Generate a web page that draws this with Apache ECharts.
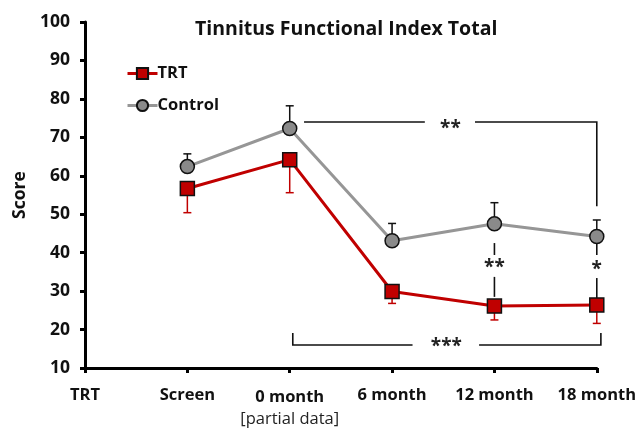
<!DOCTYPE html>
<html>
<head>
    <meta charset="utf-8">
    <title>Tinnitus Functional Index Total</title>
    <script src="https://cdn.jsdelivr.net/npm/echarts@6/dist/echarts.min.js"></script>
</head>
<body style="margin:0">
    <div id="chart" style="width: 639px; height: 431px;"></div>

    <script>
    // categories along x (index 0 is the group label slot)
    const categories = ['TRT', 'Screen', '0 month', '6 month', '12 month', '18 month'];
    const yTicks = [10, 20, 30, 40, 50, 60, 70, 80, 90, 100];

    // means (null = no point)
    const trtMean = [null, 56.7, 64.2, 29.9, 26.1, 26.4];
    const ctrlMean = [null, 62.4, 72.3, 43.1, 47.5, 44.2];
    // error bar ends: TRT drawn down, Control drawn up
    const trtLow = [null, 50.4, 55.6, 26.8, 22.5, 21.6];
    const ctrlHigh = [null, 65.7, 78.2, 47.6, 53.0, 48.5];

    // significance marks, in data units [x index, score]
    const sigLines = [
        [[2.14, 74], [3.32, 74]],
        [[3.81, 74], [5, 74], [5, 52.1]],
        [[2.03, 19.1], [2.03, 16], [3.2, 16]],
        [[3.85, 16], [5.04, 16], [5.04, 19.1]],
        [[4, 42.5], [4, 39.4]],
        [[4, 33.7], [4, 28.5]],
        [[5, 42.5], [5, 39.4]],
        [[5, 33.4], [5, 28.2]]
    ];
    const sigLabels = [
        { text: '**', at: [3.57, 72.4] },
        { text: '***', at: [3.53, 15.5] },
        { text: '**', at: [4, 36.0] },
        { text: '*', at: [5, 35.5] }
    ];

    const RED = '#c00000';
    const chart = echarts.init(document.getElementById('chart'));

    const pairs = arr => arr.map((v, i) => [i, v]).filter(p => p[1] != null);

    function errorBars(lo, hi, color) {
        return {
            type: 'custom',
            z: 1,
            silent: true,
            data: lo.map((v, i) => [i, v, hi[i]]).filter(d => d[1] != null),
            renderItem: (params, api) => {
                const a = api.coord([api.value(0), api.value(1)]);
                const b = api.coord([api.value(0), api.value(2)]);
                const style = { stroke: color, lineWidth: 1.5 };
                return {
                    type: 'group',
                    children: [
                        { type: 'line', shape: { x1: a[0], y1: a[1], x2: b[0], y2: b[1] }, style },
                        { type: 'line', shape: { x1: b[0] - 4, y1: b[1], x2: b[0] + 4, y2: b[1] }, style }
                    ]
                };
            }
        };
    }

    const option = {
        animation: false,
        textStyle: { fontFamily: 'Open Sans' },
        title: {
            text: 'Tinnitus Functional Index Total',
            left: 190,
            top: 14,
            textStyle: { fontSize: 19.5, fontWeight: 'bold', color: '#111' }
        },
        legend: {
            orient: 'vertical',
            left: 121,
            top: 60,
            itemWidth: 30,
            itemHeight: 14,
            itemGap: 15,
            data: [
                { name: 'TRT', lineStyle: { width: 3, color: RED } },
                { name: 'Control', lineStyle: { width: 3, color: '#969696' } }
            ],
            textStyle: { fontSize: 16.5, fontWeight: 'bold', color: '#111', padding: [0, 0, 0, -5] }
        },
        grid: { left: 85, right: 41, top: 22, bottom: 63 },
        xAxis: {
            type: 'value',
            min: 0,
            max: categories.length - 1,
            interval: 1,
            splitLine: { show: false },
            axisLine: { lineStyle: { color: '#000', width: 3 } },
            axisTick: { show: true, length: 5, lineStyle: { color: '#000', width: 3 } },
            axisLabel: {
                margin: 19,
                fontSize: 16.5,
                fontWeight: 'bold',
                color: '#111',
                formatter: v => v === 2 ? '{a|' + categories[v] + '}\n{b|[partial data]}' : categories[v],
                rich: {
                    a: { fontSize: 16.5, fontWeight: 'bold', color: '#111', lineHeight: 20 },
                    b: { fontSize: 16.5, fontWeight: 'normal', color: '#222', lineHeight: 24 }
                }
            }
        },
        yAxis: {
            type: 'value',
            min: yTicks[0],
            max: yTicks[yTicks.length - 1],
            interval: 10,
            name: 'Score',
            nameLocation: 'middle',
            nameGap: 56,
            nameTextStyle: { fontSize: 17.5, fontWeight: 'bold', color: '#111' },
            splitLine: { show: false },
            axisLine: { show: true, lineStyle: { color: '#000', width: 3 } },
            axisTick: { show: true, length: 5, lineStyle: { color: '#000', width: 3 } },
            axisLabel: { margin: 15, fontSize: 17.5, fontWeight: 'bold', color: '#111' }
        },
        series: [
            errorBars(ctrlMean, ctrlHigh, '#111'),
            errorBars(trtMean, trtLow, RED),
            {
                name: 'Control',
                type: 'line',
                z: 3,
                data: pairs(ctrlMean),
                symbol: 'circle',
                symbolSize: 14,
                lineStyle: { color: '#969696', width: 3 },
                itemStyle: { color: '#8a8a8a', borderColor: '#111', borderWidth: 1.5 }
            },
            {
                name: 'TRT',
                type: 'line',
                z: 4,
                data: pairs(trtMean),
                symbol: 'rect',
                symbolSize: 14,
                lineStyle: { color: RED, width: 3 },
                itemStyle: { color: RED, borderColor: '#111', borderWidth: 1.5 }
            },
            {
                type: 'custom',
                silent: true,
                z: 2,
                data: [0],
                renderItem: (params, api) => {
                    const children = sigLines.map(pts => ({
                        type: 'polyline',
                        shape: { points: pts.map(p => api.coord(p)) },
                        style: { stroke: '#111', lineWidth: 1.6, fill: null }
                    }));
                    sigLabels.forEach(l => {
                        const c = api.coord(l.at);
                        children.push({
                            type: 'text',
                            x: c[0], y: c[1],
                            style: {
                                text: l.text, fill: '#222', font: 'bold 19px "Open Sans"',
                                align: 'center', verticalAlign: 'middle'
                            }
                        });
                    });
                    return { type: 'group', children };
                }
            }
        ]
    };

    chart.setOption(option);
    </script>
</body>
</html>
